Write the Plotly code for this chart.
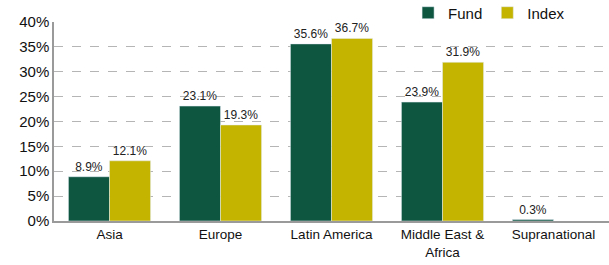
import plotly.graph_objects as go

categories = ["Asia", "Europe", "Latin America", "Middle East &<br>Africa", "Supranational"]
fund = [0.089, 0.231, 0.356, 0.239, 0.003]
index = [0.121, 0.193, 0.367, 0.319, None]
y_ticks = [0, 0.05, 0.10, 0.15, 0.20, 0.25, 0.30, 0.35, 0.40]

FONT = "Liberation Sans, Arial, sans-serif"

fig = go.Figure()
fig.add_trace(go.Bar(
    name="Fund", x=categories, y=fund, marker_color="#0F5641",
    texttemplate="%{y:.1%}", textposition="outside",
    textfont=dict(size=12, color="#222222", family=FONT), cliponaxis=False,
))
fig.add_trace(go.Bar(
    name="Index", x=categories, y=index, marker_color="#C4B400",
    texttemplate="%{y:.1%}", textposition="outside",
    textfont=dict(size=12, color="#222222", family=FONT), cliponaxis=False,
))

fig.update_layout(
    width=609, height=265,
    margin=dict(l=54, r=0, t=0, b=44, autoexpand=False),
    barmode="group", bargap=0.26, bargroupgap=0,
    plot_bgcolor="white", paper_bgcolor="white",
    font=dict(family=FONT, size=13, color="#111111"),
    showlegend=True,
    legend=dict(orientation="h", x=0.638, xanchor="left", y=1.016, yanchor="top",
                font=dict(size=15, family=FONT), bgcolor="rgba(0,0,0,0)",
                traceorder="normal"),
)
fig.update_xaxes(showline=True, linecolor="#9a9a9a", linewidth=1.5, ticks="",
                 tickfont=dict(size=13.5, family=FONT), showgrid=False, automargin=False)
fig.update_yaxes(range=[0, 0.4], tickvals=y_ticks, tickformat=".0%",
                 domain=[0, 0.9005],
                 showline=True, linecolor="#9a9a9a", linewidth=1.5,
                 showgrid=True, gridcolor="#b5b5b5", griddash="dash", gridwidth=1,
                 zeroline=False, ticks="", ticklen=0, automargin=False,
                 tickfont=dict(size=15, family=FONT))

fig.write_html("out.html", config={"displayModeBar": False},
               post_script="document.body.style.margin='0';")
